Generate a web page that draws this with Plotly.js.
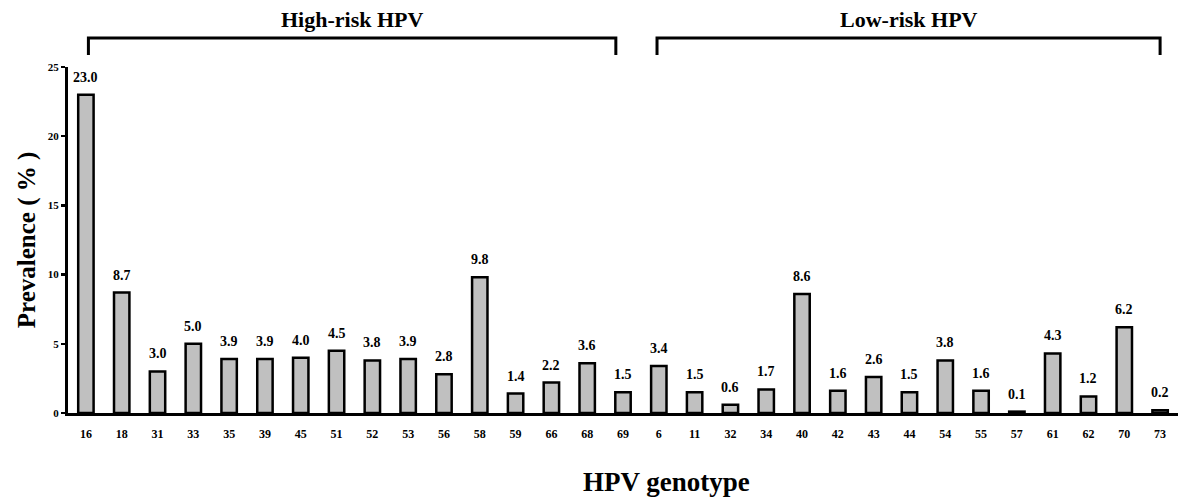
<!DOCTYPE html>
<html>
<head>
<meta charset="utf-8">
<script src="https://cdn.plot.ly/plotly-3.0.1.min.js"></script>
<style>html,body{margin:0;padding:0;background:#fff;}#chart{width:1200px;height:504px;}</style>
</head>
<body>
<div id="chart"></div>
<script>
const genotypes = ["16","18","31","33","35","39","45","51","52","53","56","58","59","66","68","69",
                   "6","11","32","34","40","42","43","44","54","55","57","61","62","70","73"];
const prevalence = [23.0,8.7,3.0,5.0,3.9,3.9,4.0,4.5,3.8,3.9,2.8,9.8,1.4,2.2,3.6,1.5,
                    3.4,1.5,0.6,1.7,8.6,1.6,2.6,1.5,3.8,1.6,0.1,4.3,1.2,6.2,0.2];
const groupLabels = ["High-risk HPV","Low-risk HPV"];
const groupStart = ["16","6"];
const groupEnd = ["69","73"];
const xTitle = "HPV genotype";
const yTitle = "Prevalence ( % )";

const font = "Liberation Serif";
const idx = g => genotypes.indexOf(g);

const shapes = [];
const annotations = [];
const bracketOffsets = [[0.07,-0.2],[-0.05,0]];
groupLabels.forEach((lab,i)=>{
  const x0 = idx(groupStart[i]) + bracketOffsets[i][0];
  const x1 = idx(groupEnd[i]) + bracketOffsets[i][1];
  shapes.push({type:'path', xref:'x', yref:'paper',
    path:`M ${x0} 1.035 L ${x0} 1.084 L ${x1} 1.084 L ${x1} 1.035`,
    line:{color:'#000', width:3}});
  annotations.push({xref:'x', yref:'paper', x:(x0+x1)/2, y:1.18, text:'<b>'+lab+'</b>',
    showarrow:false, font:{family:font, size:22, color:'#000'}});
});
genotypes.forEach((g,i)=>{
  annotations.push({xref:'x', yref:'y', x:i, y:prevalence[i], yanchor:'bottom', yshift:8,
    text:'<b>'+prevalence[i].toFixed(1)+'</b>', showarrow:false,
    font:{family:font, size:14, color:'#000'}});
});
annotations.push({xref:'paper', yref:'paper', x:0.539, y:-0.2, xanchor:'center', yanchor:'middle',
  text:'<b>'+xTitle+'</b>', showarrow:false, font:{family:font, size:27, color:'#000'}});

Plotly.newPlot('chart', [{
  type:'bar', x:genotypes, y:prevalence,
  marker:{color:'#c0c0c0', line:{color:'#000', width:2.5}},
  width:0.43,
  hoverinfo:'skip'
}], {
  width:1200, height:504,
  margin:{l:68, r:22, t:67, b:91},
  paper_bgcolor:'#fff', plot_bgcolor:'#fff',
  showlegend:false,
  xaxis:{type:'category', range:[-0.5,30.5], showline:true, linecolor:'#000', linewidth:3,
    ticks:'', showgrid:false, zeroline:false, ticklabelstandoff:8,
    tickfont:{family:font, size:12, color:'#000', weight:'bold'}},
  yaxis:{range:[0,25], tickvals:[0,5,10,15,20,25], showline:true, linecolor:'#000', linewidth:3,
    ticks:'outside', ticklen:4, tickwidth:2.5, tickcolor:'#000', showgrid:false, zeroline:false,
    tickfont:{family:font, size:11, color:'#000', weight:'bold'},
    title:{text:'<b>'+yTitle+'</b>', font:{family:font, size:25, color:'#000'}, standoff:6}},
  shapes:shapes, annotations:annotations
}, {staticPlot:true});
</script>
</body>
</html>
